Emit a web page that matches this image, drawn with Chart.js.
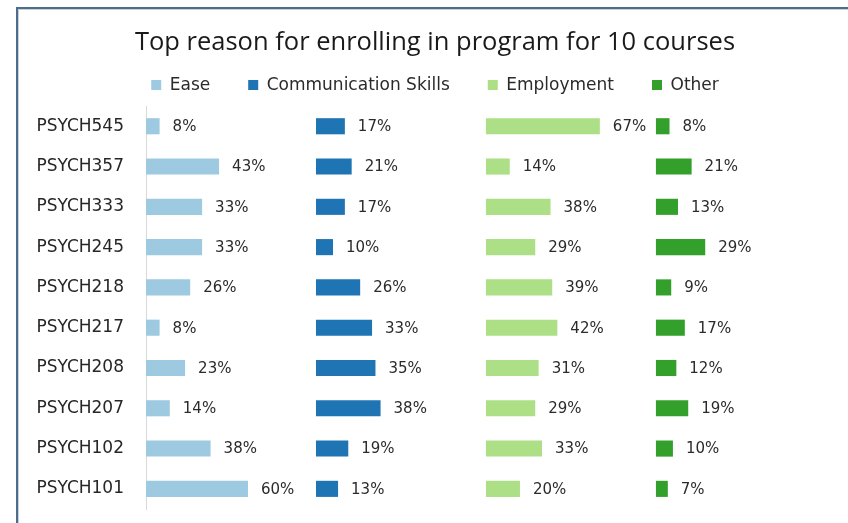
<!DOCTYPE html>
<html>
<head>
<meta charset="utf-8">
<script src="https://cdn.jsdelivr.net/npm/chart.js@4"></script>
<style>
  body { margin: 0; background: #fff; }
  #frame {
    position: absolute; left: 16px; top: 7px; width: 900px; height: 600px;
    border-left: 2px solid #4d6d8d; border-top: 2px solid #4d6d8d;
    box-shadow: inset 1px 1px 0 #c8d0d8;
  }
  #chart { position: absolute; left: 0; top: 0; }
</style>
</head>
<body>
<div id="frame"></div>
<canvas id="chart" width="848" height="523"></canvas>
<script>
// courses, top to bottom
var courses = ['PSYCH545','PSYCH357','PSYCH333','PSYCH245','PSYCH218','PSYCH217','PSYCH208','PSYCH207','PSYCH102','PSYCH101'];
var reasons = ['Ease','Communication Skills','Employment','Other'];
var ease       = [8, 43, 33, 33, 26, 8, 23, 14, 38, 60];
var commSkills = [17, 21, 17, 10, 26, 33, 35, 38, 19, 13];
var employment = [67, 14, 38, 29, 39, 42, 31, 29, 33, 20];
var other      = [8, 21, 13, 29, 9, 17, 12, 19, 10, 7];
var colors = ['#9ecae1', '#1f74b4', '#addf86', '#33a02c'];

var PANEL = 100; // each reason gets its own 0..100 slot on the shared axis
var series = [ease, commSkills, employment, other];

var datasets = series.map(function(vals, p){
	return {
		label: reasons[p],
		backgroundColor: colors[p],
		borderWidth: 0,
		grouped: false,
		barPercentage: 0.4,
		categoryPercentage: 1,
		raw: vals,
		data: vals.map(function(v){ return [p * PANEL, p * PANEL + v]; })
	};
});

var valueLabels = {
	id: 'valueLabels',
	afterDatasetsDraw: function(chart){
		var ctx = chart.ctx;
		ctx.save();
		ctx.font = '15px "DejaVu Sans"';
		ctx.fillStyle = '#2b2b2b';
		ctx.textAlign = 'left';
		ctx.textBaseline = 'middle';
		chart.data.datasets.forEach(function(ds, i){
			chart.getDatasetMeta(i).data.forEach(function(bar, j){
				ctx.fillText(ds.raw[j] + '%', bar.x + 13, bar.y + 1);
			});
		});
		ctx.restore();
	}
};

var ctx = document.getElementById('chart');
var barChart = new Chart(ctx, {
	type: 'bar',
	data: { labels: courses, datasets: datasets },
	plugins: [valueLabels],
	options: {
		indexAxis: 'y',
		responsive: false,
		animation: false,
		layout: { padding: { top: 27, right: 0, bottom: 14, left: 22 } },
		plugins: {
			title: {
				display: true,
				text: 'Top reason for enrolling in program for 10 courses',
				color: '#1a1a1a',
				font: { family: 'Open Sans', size: 25.5, weight: 'normal' },
				padding: { top: 0, bottom: -19 }
			},
			legend: {
				display: true,
				labels: {
					boxWidth: 10,
					boxHeight: 10,
					padding: 38,
					color: '#2b2b2b',
					font: { family: 'DejaVu Sans', size: 17 }
				}
			},
			tooltip: { enabled: false }
		},
		scales: {
			x: {
				position: 'top',
				min: 0,
				max: 4 * PANEL + 13,
				afterFit: function(scale){ scale.height = 2.5; },
				grid: { display: false },
				border: { display: false },
				ticks: { display: false }
			},
			y: {
				afterFit: function(scale){
					scale.width = 124;
					scale.paddingTop = 0;
					scale.paddingBottom = 0;
				},
				grid: { display: false, drawTicks: false },
				border: { display: true, color: '#d9d9d9', width: 1 },
				ticks: {
					padding: 22,
					color: '#262626',
					font: { family: 'DejaVu Sans', size: 17 }
				}
			}
		}
	}
});
</script>
</body>
</html>
